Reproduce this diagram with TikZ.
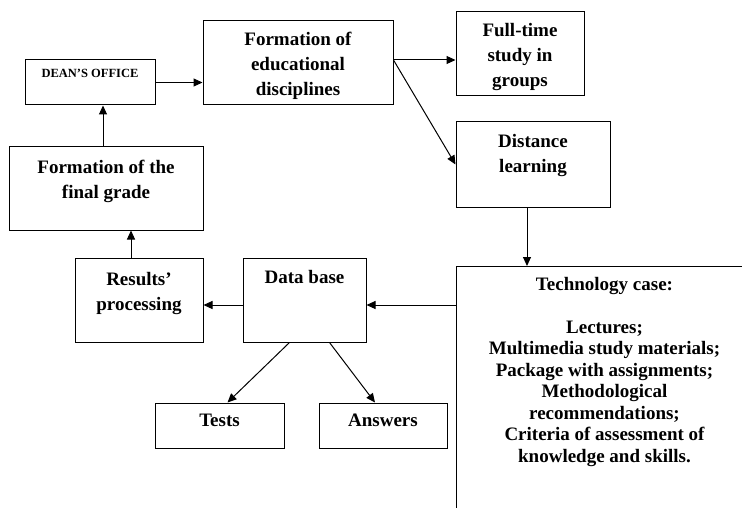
\documentclass[tikz,border=0pt]{standalone}
\usepackage{fontspec}
\setmainfont{Liberation Serif}
\usetikzlibrary{positioning,arrows.meta}

\begin{document}
\begin{tikzpicture}[x=1pt,y=-1pt,
        box/.style 2 args={draw,line width=1pt,minimum width=#1,minimum height=#2,inner sep=0pt},%empty frame, text is set on top
        txt/.style={font=\bfseries\fontsize{19}{25}\selectfont,align=center,inner sep=0pt},
        link/.style={-{Triangle[length=9pt,width=8pt]},line width=1pt}
        ]
\useasboundingbox (0,0) rectangle (742,508);
\clip (0,0) rectangle (742,508);%the case frame runs off the page
% frames
\node (dean)  [box={130pt}{45pt}] at (90,82.5)     {};
\node (form)  [box={190pt}{84pt}] at (298,63)      {};
\node (full)  [box={128pt}{84pt}] at (520,54)      {};
\node (dist)  [box={154pt}{85pt}] at (533,164.5)   {};
\node (grade) [box={194pt}{83pt}] at (106,188.5)   {};
\node (proc)  [box={128pt}{84pt}] at (139,300)     {};
\node (base)  [box={123pt}{84pt}] at (304.5,300)   {};
\node (tests) [box={129pt}{45pt}] at (219.5,425.5) {};
\node (answ)  [box={128pt}{45pt}] at (383,425.5)   {};
\node (case)  [box={296pt}{260pt},anchor=north west] at (456,266) {};
% texts
\node (dean-t)  [txt,font=\bfseries\fontsize{12.5}{14}\selectfont,below=9pt of dean.north] {DEAN’S OFFICE};
\node (form-t)  [txt,below=11pt of form.north]  {Formation of\\educational\\disciplines};
\node (full-t)  [txt,below=12pt of full.north]  {Full-time\\study in\\groups};
\node (dist-t)  [txt,below=12.5pt of dist.north] {Distance\\learning};
\node (grade-t) [txt,below=13pt of grade.north] {Formation of the\\final grade};
\node (proc-t)  [txt,below=15pt of proc.north]  {Results’\\processing};
\node (base-t)  [txt,below=13pt of base.north]  {Data base};
\node (tests-t) [txt,below=11pt of tests.north] {Tests};
\node (answ-t)  [txt,below=11pt of answ.north]  {Answers};
\node (case-t)  [txt,font=\bfseries\fontsize{19}{21.5}\selectfont,below=11pt of case.north]
        {Technology case:\\[21.5pt]Lectures;\\Multimedia study materials;\\Package with assignments;\\Methodological\\recommendations;\\Criteria of assessment of\\knowledge and skills.};
% arrows
\coordinate (split) at ([yshift=3pt]form.east);
\coordinate (feed) at ([yshift=-5pt]base.east);
\draw[link] (dean.east) -- (dean.east -| form.west);
\draw[link] ([xshift=-3pt]grade.north) -- ([xshift=-3pt]grade.north |- dean.south);
\draw[link] (split) -- (split -| full.west);
\draw[link] (split) -- (dist.west);
\draw[link] ([xshift=-6pt]dist.south) -- ([xshift=-6pt]dist.south |- case.north);
\draw[link] (feed -| case.west) -- (feed);
\draw[link] ([yshift=-5pt]base.west) -- ([yshift=-5pt]base.west -| proc.east);
\draw[link] ([xshift=-8pt]proc.north) -- ([xshift=-8pt]proc.north |- grade.south);
\draw[link] ([xshift=-15pt]base.south) -- ([xshift=8pt]tests.north);
\draw[link] ([xshift=25pt]base.south) -- ([xshift=-8pt]answ.north);
\end{tikzpicture}
\end{document}
